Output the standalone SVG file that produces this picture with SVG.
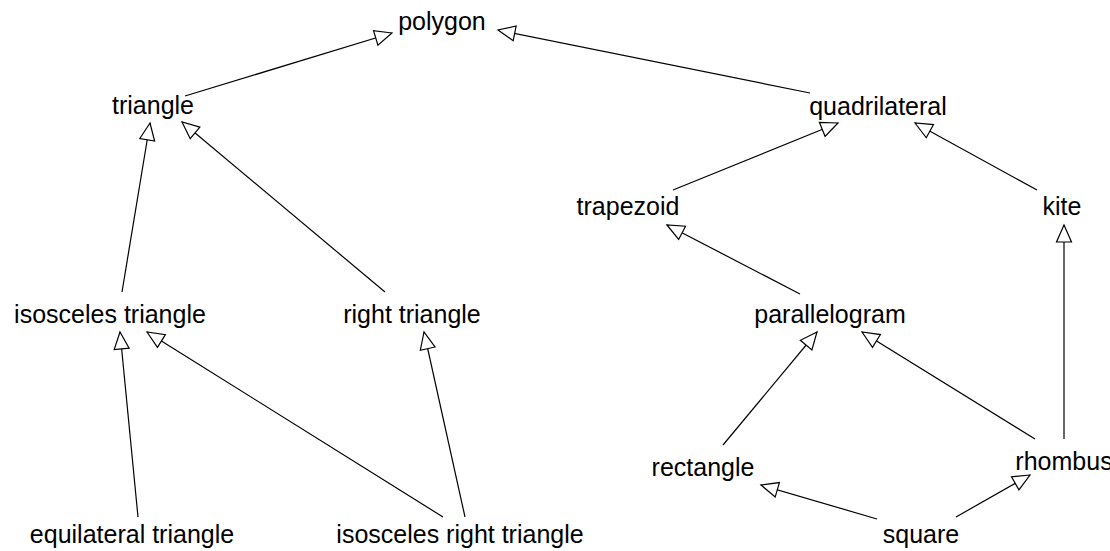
<svg xmlns="http://www.w3.org/2000/svg" width="1110" height="551" viewBox="0 0 1110 551">
<style>
.lbl{font-family:"Liberation Sans",Arial,Helvetica,sans-serif;font-size:25px;fill:#000;text-anchor:middle}
.edge{stroke:#000;stroke-width:1.2;fill:none;marker-end:url(#tri)}
</style>
<defs>
<marker id="tri" markerUnits="userSpaceOnUse" markerWidth="20" markerHeight="18" viewBox="-18 -9 20 18" refX="0" refY="0" orient="auto">
<path d="M0,0 L-17,-7.5 L-17,7.5 Z" fill="#fff" stroke="#000" stroke-width="1.2" stroke-linejoin="miter"/>
</marker>
</defs>
<rect width="1110" height="551" fill="#fff"/>
<g id="connectors">
<line class="edge" x1="185" y1="96" x2="392" y2="33"/>
<line class="edge" x1="810" y1="93" x2="498" y2="30"/>
<line class="edge" x1="122" y1="292" x2="150" y2="123"/>
<line class="edge" x1="385" y1="292" x2="182" y2="122"/>
<line class="edge" x1="673" y1="190" x2="838" y2="123"/>
<line class="edge" x1="1037" y1="190" x2="915" y2="123"/>
<line class="edge" x1="1064" y1="439" x2="1064" y2="225"/>
<line class="edge" x1="800" y1="294" x2="667" y2="225"/>
<line class="edge" x1="723" y1="445" x2="817" y2="332"/>
<line class="edge" x1="1035" y1="439" x2="862" y2="332"/>
<line class="edge" x1="138" y1="517" x2="120" y2="332"/>
<line class="edge" x1="443" y1="517" x2="147" y2="332"/>
<line class="edge" x1="465" y1="517" x2="424" y2="332"/>
<line class="edge" x1="877" y1="519" x2="761" y2="485"/>
<line class="edge" x1="956" y1="517" x2="1030" y2="475"/>
</g>
<g id="polygon"><text class="lbl" x="442" y="30">polygon</text></g>
<g id="triangle"><text class="lbl" x="153" y="114">triangle</text></g>
<g id="quadrilateral"><text class="lbl" x="878" y="115">quadrilateral</text></g>
<g id="trapezoid"><text class="lbl" x="628" y="215">trapezoid</text></g>
<g id="kite"><text class="lbl" x="1062" y="215">kite</text></g>
<g id="isosceles-triangle"><text class="lbl" x="110" y="323">isosceles triangle</text></g>
<g id="right-triangle"><text class="lbl" x="412" y="323">right triangle</text></g>
<g id="parallelogram"><text class="lbl" x="830" y="323">parallelogram</text></g>
<g id="rectangle"><text class="lbl" x="703" y="476">rectangle</text></g>
<g id="rhombus"><text class="lbl" x="1064" y="470">rhombus</text></g>
<g id="equilateral-triangle"><text class="lbl" x="132" y="543">equilateral triangle</text></g>
<g id="isosceles-right-triangle"><text class="lbl" x="460" y="543">isosceles right triangle</text></g>
<g id="square"><text class="lbl" x="921" y="543">square</text></g>
</svg>
